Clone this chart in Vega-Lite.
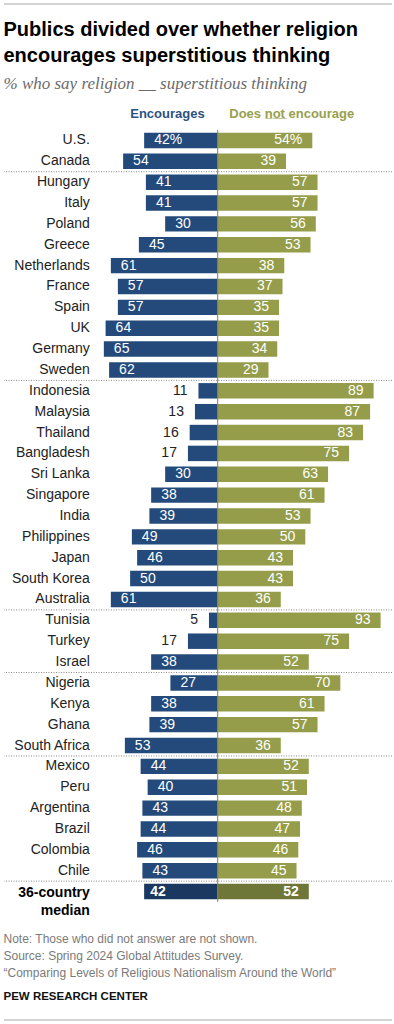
{
  "$schema": "https://vega.github.io/schema/vega-lite/v6.json",
  "background": "white",
  "padding": {"left": 3, "right": 3, "top": 3, "bottom": 2},
  "spacing": 15,
  "config": {"view": {"stroke": null}, "font": "Liberation Sans"},
  "vconcat": [
    {
      "width": 388,
      "height": 1,
      "data": {"values": [{}]},
      "mark": {"type": "rule", "color": "#a8a8a8", "strokeWidth": 1},
      "encoding": {"y": {"datum": 0, "axis": null}}
    },
    {
      "width": 388,
      "height": 772,
      "title": {
        "text": ["Publics divided over whether religion", "encourages superstitious thinking"],
        "subtitle": "% who say religion __ superstitious thinking",
        "anchor": "start",
        "font": "Liberation Sans",
        "fontSize": 20,
        "fontWeight": "bold",
        "color": "#000000",
        "lineHeight": 26,
        "subtitleFont": "Liberation Serif",
        "subtitleFontStyle": "italic",
        "subtitleFontSize": 17,
        "subtitleColor": "#6b6b6b",
        "subtitlePadding": 10,
        "offset": 15
      },
      "resolve": {"axis": {"x": "independent"}},
      "data": {
        "values": [
          {"country": "U.S.", "enc": 42, "not": 54},
          {"country": "Canada", "enc": 54, "not": 39},
          {"country": "Hungary", "enc": 41, "not": 57},
          {"country": "Italy", "enc": 41, "not": 57},
          {"country": "Poland", "enc": 30, "not": 56},
          {"country": "Greece", "enc": 45, "not": 53},
          {"country": "Netherlands", "enc": 61, "not": 38},
          {"country": "France", "enc": 57, "not": 37},
          {"country": "Spain", "enc": 57, "not": 35},
          {"country": "UK", "enc": 64, "not": 35},
          {"country": "Germany", "enc": 65, "not": 34},
          {"country": "Sweden", "enc": 62, "not": 29},
          {"country": "Indonesia", "enc": 11, "not": 89},
          {"country": "Malaysia", "enc": 13, "not": 87},
          {"country": "Thailand", "enc": 16, "not": 83},
          {"country": "Bangladesh", "enc": 17, "not": 75},
          {"country": "Sri Lanka", "enc": 30, "not": 63},
          {"country": "Singapore", "enc": 38, "not": 61},
          {"country": "India", "enc": 39, "not": 53},
          {"country": "Philippines", "enc": 49, "not": 50},
          {"country": "Japan", "enc": 46, "not": 43},
          {"country": "South Korea", "enc": 50, "not": 43},
          {"country": "Australia", "enc": 61, "not": 36},
          {"country": "Tunisia", "enc": 5, "not": 93},
          {"country": "Turkey", "enc": 17, "not": 75},
          {"country": "Israel", "enc": 38, "not": 52},
          {"country": "Nigeria", "enc": 27, "not": 70},
          {"country": "Kenya", "enc": 38, "not": 61},
          {"country": "Ghana", "enc": 39, "not": 57},
          {"country": "South Africa", "enc": 53, "not": 36},
          {"country": "Mexico", "enc": 44, "not": 52},
          {"country": "Peru", "enc": 40, "not": 51},
          {"country": "Argentina", "enc": 43, "not": 48},
          {"country": "Brazil", "enc": 44, "not": 47},
          {"country": "Colombia", "enc": 46, "not": 46},
          {"country": "Chile", "enc": 43, "not": 45},
          {"country": "36-country median", "enc": 42, "not": 52}
        ]
      },
      "transform": [
        {"calculate": "-datum.enc", "as": "encNeg"},
        {"calculate": "datum.country === 'U.S.' ? datum.enc + '%' : '' + datum.enc", "as": "encLabel"},
        {"calculate": "datum.country === 'U.S.' ? datum.not + '%' : '' + datum.not", "as": "notLabel"}
      ],
      "layer": [
        {
          "mark": {"type": "bar", "height": {"band": 0.74}},
          "encoding": {
            "y": {"field": "country", "type": "nominal", "axis": null,
                  "scale": {"domain": ["U.S.", "Canada", "Hungary", "Italy", "Poland", "Greece", "Netherlands", "France", "Spain", "UK", "Germany", "Sweden", "Indonesia", "Malaysia", "Thailand", "Bangladesh", "Sri Lanka", "Singapore", "India", "Philippines", "Japan", "South Korea", "Australia", "Tunisia", "Turkey", "Israel", "Nigeria", "Kenya", "Ghana", "South Africa", "Mexico", "Peru", "Argentina", "Brazil", "Colombia", "Chile", "36-country median"], "paddingInner": 0, "paddingOuter": 0}},
            "x": {"field": "encNeg", "type": "quantitative",
                  "scale": {"domain": [-122, 99.5], "nice": false, "zero": false},
                  "axis": {"orient": "top", "values": [-29, 42], "labelExpr": "datum.value < 0 ? 'Encourages' : 'Does n\u0332o\u0332t\u0332 encourage'", "ticks": false, "domain": false, "grid": false, "title": null, "labelFontSize": 13, "labelFontWeight": "bold", "labelFont": "Liberation Sans", "labelColor": {"condition": {"test": "datum.value < 0", "value": "#2b5283"}, "value": "#98a04e"}, "labelPadding": 10, "labelAlign": "center", "labelOverlap": false}},
            "x2": {"datum": 0},
            "color": {"condition": {"test": "datum.country === '36-country median'", "value": "#1b3861"}, "value": "#234a7b"}
          }
        },
        {
          "mark": {"type": "bar", "height": {"band": 0.74}},
          "encoding": {
            "y": {"field": "country", "type": "nominal", "axis": null},
            "x": {"field": "not", "type": "quantitative", "axis": null},
            "x2": {"datum": 0},
            "color": {"condition": {"test": "datum.country === '36-country median'", "value": "#6e7737"}, "value": "#959d4a"}
          }
        },
        {
          "transform": [{"filter": {"field": "country", "oneOf": ["Hungary", "Indonesia", "Tunisia", "Nigeria", "Mexico", "36-country median"]}}],
          "mark": {"type": "rule", "color": "#8a8a8a", "strokeWidth": 1, "strokeDash": [1, 1.5]},
          "encoding": {
            "y": {"field": "country", "type": "nominal", "axis": null, "bandPosition": 0}
          }
        },
        {
          "data": {"values": [{}]},
          "mark": {"type": "rule", "color": "#7f7f60", "strokeWidth": 1},
          "encoding": {"x": {"datum": 0, "type": "quantitative", "axis": null}}
        },
        {
          "transform": [{"filter": "datum.country !== '36-country median'"}],
          "mark": {"type": "text", "align": "right", "baseline": "middle", "fontSize": 14, "color": "#222222"},
          "encoding": {
            "y": {"field": "country", "type": "nominal", "axis": null},
            "x": {"datum": -73, "type": "quantitative", "axis": null},
            "text": {"field": "country"}
          }
        },
        {
          "transform": [{"filter": "datum.country === '36-country median'"}],
          "mark": {"type": "text", "align": "right", "baseline": "alphabetic", "dy": 5, "fontSize": 14, "fontWeight": "bold", "color": "#000000", "lineBreak": "\n", "lineHeight": 18, "text": "36-country\nmedian"},
          "encoding": {
            "y": {"field": "country", "type": "nominal", "axis": null},
            "x": {"datum": -73, "type": "quantitative", "axis": null}
          }
        },
        {
          "transform": [{"filter": "datum.country !== '36-country median' && datum.enc >= 20"}],
          "mark": {"type": "text", "align": "left", "baseline": "middle", "dx": 10, "fontSize": 14, "color": "white"},
          "encoding": {
            "y": {"field": "country", "type": "nominal", "axis": null},
            "x": {"field": "encNeg", "type": "quantitative", "axis": null},
            "text": {"field": "encLabel"}
          }
        },
        {
          "transform": [{"filter": "datum.enc < 20"}],
          "mark": {"type": "text", "align": "right", "baseline": "middle", "dx": -11, "fontSize": 14, "color": "#222222"},
          "encoding": {
            "y": {"field": "country", "type": "nominal", "axis": null},
            "x": {"field": "encNeg", "type": "quantitative", "axis": null},
            "text": {"field": "encLabel"}
          }
        },
        {
          "transform": [{"filter": "datum.country !== '36-country median'"}],
          "mark": {"type": "text", "align": "right", "baseline": "middle", "dx": -10, "fontSize": 14, "color": "white"},
          "encoding": {
            "y": {"field": "country", "type": "nominal", "axis": null},
            "x": {"field": "not", "type": "quantitative", "axis": null},
            "text": {"field": "notLabel"}
          }
        },
        {
          "transform": [{"filter": "datum.country === '36-country median'"}],
          "mark": {"type": "text", "align": "left", "baseline": "middle", "dx": 6, "fontSize": 14, "fontWeight": "bold", "color": "white"},
          "encoding": {
            "y": {"field": "country", "type": "nominal", "axis": null},
            "x": {"field": "encNeg", "type": "quantitative", "axis": null},
            "text": {"field": "encLabel"}
          }
        },
        {
          "transform": [{"filter": "datum.country === '36-country median'"}],
          "mark": {"type": "text", "align": "right", "baseline": "middle", "dx": -10, "fontSize": 14, "fontWeight": "bold", "color": "white"},
          "encoding": {
            "y": {"field": "country", "type": "nominal", "axis": null},
            "x": {"field": "not", "type": "quantitative", "axis": null},
            "text": {"field": "notLabel"}
          }
        }
      ]
    },
    {
      "width": 388,
      "height": 1,
      "title": {
        "text": ["Note: Those who did not answer are not shown.", "Source: Spring 2024 Global Attitudes Survey.", "“Comparing Levels of Religious Nationalism Around the World”"],
        "subtitle": "PEW RESEARCH CENTER",
        "anchor": "start",
        "font": "Liberation Sans",
        "fontSize": 12,
        "fontWeight": "normal",
        "color": "#7a7a7a",
        "lineHeight": 17,
        "subtitleFont": "Liberation Sans",
        "subtitleFontSize": 11.5,
        "subtitleFontWeight": "bold",
        "subtitleColor": "#111111",
        "subtitlePadding": 11,
        "offset": 16
      },
      "data": {"values": [{}]},
      "mark": {"type": "rule", "color": "#a8a8a8", "strokeWidth": 1},
      "encoding": {"y": {"datum": 0, "axis": null}}
    }
  ]
}
